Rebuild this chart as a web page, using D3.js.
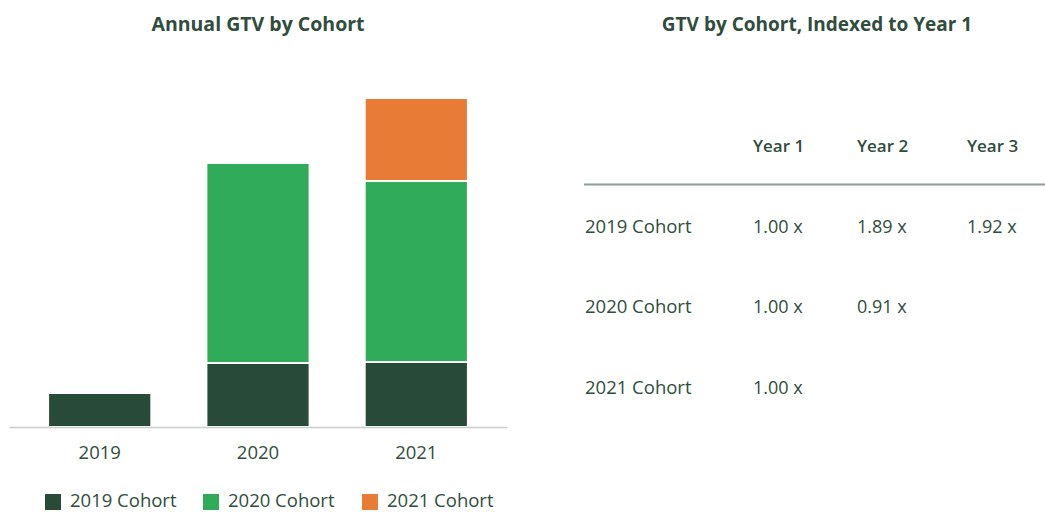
<!DOCTYPE html>
<html>
<head>
<meta charset="utf-8">
<script src="https://cdn.jsdelivr.net/npm/d3@7"></script>
<style>
  html, body { margin: 0; padding: 0; background: #fff; }
  svg { display: block; font-family: "Open Sans", sans-serif; }
</style>
</head>
<body>
<svg id="chart" width="1045" height="512"></svg>
<script>
// ---- data ----
const years = ["2019", "2020", "2021"];
const cohorts = ["2019 Cohort", "2020 Cohort", "2021 Cohort"];
const cohort2019 = [34, 64, 65];
const cohort2020 = [0, 200, 181];
const cohort2021 = [0, 0, 83];
const colors = ["#284a38", "#30ab59", "#e87b36"];
const tableCols = ["Year 1", "Year 2", "Year 3"];
const tableRows = ["2019 Cohort", "2020 Cohort", "2021 Cohort"];
const indexed2019 = ["1.00 x", "1.89 x", "1.92 x"];
const indexed2020 = ["1.00 x", "0.91 x"];
const indexed2021 = ["1.00 x"];

const textColor = "#2f4d3d";
const font = "'Open Sans', sans-serif";
const svg = d3.select("#chart");

// ---- left chart ----
const seriesVals = [cohort2019, cohort2020, cohort2021];
const rows = years.map((y, i) => {
  const o = { year: y };
  cohorts.forEach((c, j) => { o[c] = seriesVals[j][i]; });
  return o;
});
const stack = d3.stack().keys(cohorts)(rows);

const x = d3.scaleBand().domain(years).range([9, 507]).paddingInner(0.348).paddingOuter(0.247);
const y = d3.scaleLinear().domain([0, 328.4]).range([427, 98.6]);

svg.append("text")
  .attr("x", 258).attr("y", 31)
  .attr("text-anchor", "middle")
  .attr("font-size", 19.5).attr("font-weight", 700)
  .attr("fill", textColor)
  .text("Annual GTV by Cohort");

const g = svg.append("g");
stack.forEach((layer, j) => {
  g.selectAll(null).data(layer.filter(d => d[1] - d[0] > 0)).enter()
    .append("rect")
    .attr("x", d => x(d.data.year))
    .attr("width", x.bandwidth())
    .attr("y", d => y(d[1]))
    .attr("height", d => y(d[0]) - y(d[1]))
    .attr("fill", colors[j])
    .attr("stroke", "#fff")
    .attr("stroke-width", 2);
});

const xAxis = svg.append("g")
  .attr("transform", `translate(0,${y(0)})`)
  .call(d3.axisBottom(x).tickSize(0).tickPadding(19));
xAxis.select(".domain").attr("stroke", "#c8cdca").attr("stroke-width", 1.5);
xAxis.selectAll("text")
  .attr("font-size", 18.5)
  .attr("font-family", font)
  .attr("fill", textColor);

// legend
const legendX = [45, 203, 362];
const lg = svg.append("g");
cohorts.forEach((c, i) => {
  lg.append("rect").attr("x", legendX[i]).attr("y", 494).attr("width", 16).attr("height", 16).attr("fill", colors[i]);
  lg.append("text").attr("x", legendX[i] + 25).attr("y", 507)
    .attr("font-size", 18.5).attr("fill", textColor).text(c);
});

// ---- right table ----
svg.append("text")
  .attr("x", 817).attr("y", 31)
  .attr("text-anchor", "middle")
  .attr("font-size", 19).attr("font-weight", 700)
  .attr("fill", textColor)
  .text("GTV by Cohort, Indexed to Year 1");

const colPos = [753, 857, 967];
const rowY = d3.scalePoint().domain(tableRows).range([226, 387]);

svg.selectAll(null).data(tableCols).enter().append("text")
  .attr("x", (d, i) => colPos[i]).attr("y", 151.5)
  .attr("font-size", 17).attr("font-weight", 600)
  .attr("fill", textColor).text(d => d);

svg.append("line")
  .attr("x1", 584).attr("x2", 1045).attr("y1", 184.5).attr("y2", 184.5)
  .attr("stroke", "#8d9c93").attr("stroke-width", 2);

const indexed = [indexed2019, indexed2020, indexed2021];
tableRows.forEach((r, i) => {
  svg.append("text").attr("x", 585).attr("y", rowY(r) + 6.5)
    .attr("font-size", 18.5).attr("fill", textColor).text(r);
  indexed[i].forEach((v, j) => {
    svg.append("text").attr("x", colPos[j]).attr("y", rowY(r) + 6.5)
      .attr("font-size", 18).attr("fill", textColor).text(v);
  });
});
</script>
</body>
</html>
